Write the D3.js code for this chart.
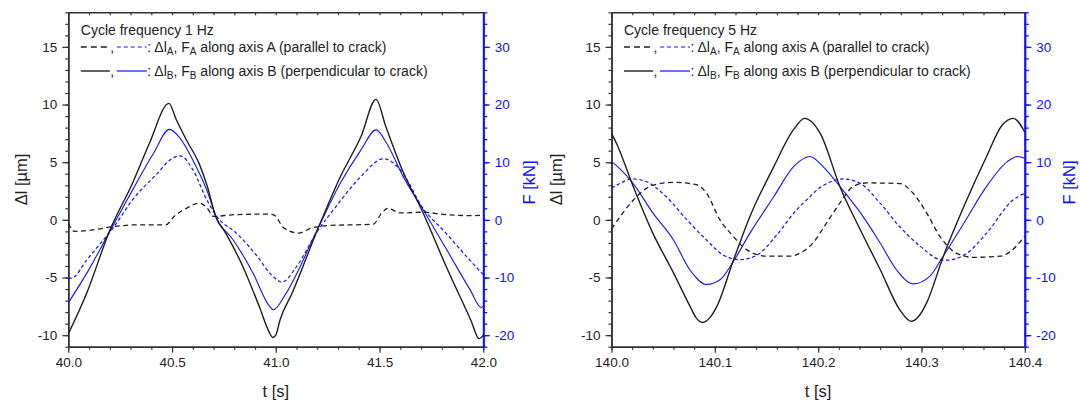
<!DOCTYPE html>
<html>
<head>
<meta charset="utf-8">
<script src="https://cdn.jsdelivr.net/npm/d3@7"></script>
<style>
body{margin:0;background:#fff}
svg text{font-family:"Liberation Sans",Arial,sans-serif}
</style>
</head>
<body>
<svg id="plot" width="1080" height="401"></svg>
<script>
//load our svg
let svg = d3.select("#plot")

//----- data: [t in s, value] -----
//1 Hz panel, displacement in um
let hz1_dlB = [[40.00,-9.9],[40.09,-6.3],[40.20,-0.9],[40.31,3.2],[40.39,6.6],[40.485,10.1],[40.52,8.7],[40.57,6.9],[40.63,4.9],[40.67,2.9],[40.71,0.3],[40.76,-1.2],[40.84,-4.0],[40.92,-7.5],[40.97,-9.8],[40.985,-10.2],[41.0,-10.0],[41.02,-8.7],[41.08,-6.3],[41.20,-0.9],[41.31,3.7],[41.41,7.2],[41.483,10.45],[41.53,8.1],[41.61,4.3],[41.71,0.6],[41.82,-4.0],[41.94,-8.7],[41.98,-10.3],[42.0,-10.0]]
let hz1_dlA = [[40.0,-0.3],[40.03,-1.0],[40.12,-0.87],[40.22,-0.58],[40.33,-0.43],[40.47,-0.43],[40.51,0.3],[40.57,1.0],[40.63,1.45],[40.67,1.0],[40.70,0.3],[40.80,0.45],[40.96,0.5],[40.99,0.43],[41.04,-0.72],[41.11,-1.15],[41.17,-0.72],[41.25,-0.5],[41.47,-0.37],[41.51,0.58],[41.54,1.0],[41.60,0.6],[41.71,0.66],[41.82,0.45],[41.94,0.37],[42.0,0.4]]
//1 Hz panel, force in kN
let hz1_FB = [[40.0,-14.4],[40.09,-9.2],[40.2,-2.0],[40.31,5.2],[40.41,11.5],[40.487,15.7],[40.54,14.1],[40.60,10.4],[40.667,5.2],[40.715,0.3],[40.795,-3.5],[40.89,-9.2],[40.97,-15.0],[40.988,-15.6],[41.05,-12.7],[41.20,-1.7],[41.31,6.3],[41.41,12.1],[41.483,15.6],[41.534,13.3],[41.614,7.5],[41.711,1.7],[41.824,-5.2],[41.936,-12.1],[41.99,-15.2],[42.0,-15.0]]
let hz1_FA = [[40.0,-10.1],[40.015,-10.1],[40.09,-6.9],[40.15,-4.3],[40.22,-1.2],[40.31,3.5],[40.43,8.1],[40.49,10.4],[40.54,11.1],[40.60,8.7],[40.667,3.5],[40.715,0.6],[40.81,-2.3],[40.91,-6.3],[40.97,-9.2],[40.99,-9.9],[41.03,-10.8],[41.10,-8.1],[41.20,-2.0],[41.29,2.3],[41.41,7.5],[41.52,10.6],[41.60,8.7],[41.71,2.0],[41.82,-2.3],[41.94,-7.2],[42.0,-9.5]]

//5 Hz panel, displacement in um
let hz5_dlB = [[140.0,7.5],[140.005,6.6],[140.021,2.9],[140.04,-1.15],[140.06,-4.6],[140.076,-7.5],[140.082,-8.5],[140.088,-8.9],[140.095,-8.5],[140.102,-7.5],[140.118,-3.5],[140.134,0.3],[140.157,4.6],[140.176,7.8],[140.187,8.8],[140.202,7.5],[140.221,2.9],[140.241,-0.9],[140.26,-4.3],[140.279,-7.8],[140.29,-8.8],[140.297,-8.4],[140.305,-7.2],[140.321,-3.2],[140.341,1.15],[140.363,5.5],[140.378,8.2],[140.389,8.8],[140.4,7.6]]
let hz5_dlA = [[140.0,-0.8],[140.011,0.6],[140.021,1.7],[140.034,2.75],[140.047,3.15],[140.06,3.25],[140.082,3.05],[140.092,2.3],[140.105,0],[140.118,-1.45],[140.131,-2.6],[140.15,-3.15],[140.173,-3.15],[140.182,-2.9],[140.195,-2.0],[140.208,-0.3],[140.221,1.45],[140.234,2.9],[140.247,3.2],[140.279,3.15],[140.292,2.3],[140.305,0.6],[140.318,-1.45],[140.334,-2.9],[140.35,-3.25],[140.376,-3.15],[140.386,-2.75],[140.4,-1.4]]
//5 Hz panel, force in kN
let hz5_FB = [[140.0,10.1],[140.008,8.9],[140.021,6.3],[140.04,1.2],[140.06,-3.5],[140.076,-8.7],[140.092,-11.2],[140.105,-10.4],[140.118,-7.2],[140.134,-2.3],[140.157,4.0],[140.176,9.2],[140.192,11.0],[140.205,9.2],[140.221,5.8],[140.241,1.2],[140.26,-4.0],[140.276,-8.7],[140.292,-11.1],[140.308,-9.8],[140.321,-6.3],[140.341,-0.6],[140.363,5.8],[140.383,10.1],[140.393,11.0],[140.4,10.7]]
let hz5_FA = [[140.0,5.5],[140.008,6.3],[140.02,7.1],[140.034,6.6],[140.053,4.0],[140.073,0],[140.092,-3.5],[140.108,-6.1],[140.124,-6.9],[140.141,-6.1],[140.16,-2.6],[140.179,1.7],[140.192,4.0],[140.199,5.2],[140.212,6.6],[140.224,7.1],[140.241,6.3],[140.26,2.9],[140.279,-1.2],[140.299,-4.6],[140.318,-6.9],[140.324,-7.0],[140.344,-5.8],[140.363,-2.3],[140.389,3.5],[140.4,4.6]]

//tick labels
let dl_ticks = [-10,-5,0,5,10,15]
let F_ticks = [-20,-10,0,10,20,30]
let hz1_ticks = [40.0,40.5,41.0,41.5,42.0]
let hz5_ticks = [140.0,140.1,140.2,140.3,140.4]

let dl_domain = [-11,18]
let F_domain = [-22,36]

//----- layout -----
let plot_top = 12.3, plot_bottom = 346.7
let black = "#1e1e1e", blue = "#1010ff", axis_col = "#333"

let panels = [
  {id:"p1", x0:68.3, x1:483.3, dom:[40,42], ticks:hz1_ticks, minor:0.1, title:"Cycle frequency 1 Hz",
   dlB:hz1_dlB, dlA:hz1_dlA, FB:hz1_FB, FA:hz1_FA, ylab_x:21, flab_x:529},
  {id:"p2", x0:611.5, x1:1024.8, dom:[140,140.4], ticks:hz5_ticks, minor:0.02, title:"Cycle frequency 5 Hz",
   dlB:hz5_dlB, dlA:hz5_dlA, FB:hz5_FB, FA:hz5_FA, ylab_x:556, flab_x:1069}
]

let y_scale = d3.scaleLinear(dl_domain, [plot_bottom, plot_top])
let f_scale = d3.scaleLinear(F_domain, [plot_bottom, plot_top])

panels.forEach(function(p){
  let x_scale = d3.scaleLinear(p.dom, [p.x0, p.x1])
  let g = svg.append("g")

  //clip for the curves
  svg.append("clipPath").attr("id", "clip_" + p.id)
    .append("rect").attr("x", p.x0).attr("y", plot_top).attr("width", p.x1 - p.x0).attr("height", plot_bottom - plot_top)

  let minor_x = d3.range(p.dom[0], p.dom[1] + p.minor/2, p.minor)
  let minor_y = d3.range(dl_domain[0], dl_domain[1] + 0.5, 1)
  let minor_f = d3.range(F_domain[0], F_domain[1] + 1, 2)

  //bottom axis: minor then major
  g.append("g").attr("transform", `translate(0,${plot_bottom})`)
    .call(d3.axisBottom(x_scale).tickValues(minor_x).tickSize(3).tickSizeOuter(0).tickFormat(""))
  let xax = g.append("g").attr("transform", `translate(0,${plot_bottom})`)
    .call(d3.axisBottom(x_scale).tickValues(p.ticks).tickSize(6).tickSizeOuter(0).tickPadding(4.5).tickFormat(d3.format(".1f")))
  xax.selectAll("text").attr("font-size", 13.5).attr("fill", "#222")

  //top mirror axis, ticks pointing in
  g.append("g").attr("transform", `translate(0,${plot_top})`)
    .call(d3.axisBottom(x_scale).tickValues(minor_x).tickSize(3).tickSizeOuter(0).tickFormat(""))

  //left axis
  g.append("g").attr("transform", `translate(${p.x0},0)`)
    .call(d3.axisLeft(y_scale).tickValues(minor_y).tickSize(3).tickSizeOuter(0).tickFormat(""))
  let yax = g.append("g").attr("transform", `translate(${p.x0},0)`)
    .call(d3.axisLeft(y_scale).tickValues(dl_ticks).tickSize(6).tickSizeOuter(0).tickPadding(5).tickFormat(d => String(d)))
  yax.selectAll("text").attr("font-size", 13.5).attr("fill", "#222")

  //right axis (force), blue
  g.append("g").attr("class", "fax").attr("transform", `translate(${p.x1},0)`)
    .call(d3.axisRight(f_scale).tickValues(minor_f).tickSize(4).tickSizeOuter(0).tickFormat(""))
  let fax = g.append("g").attr("class", "fax").attr("transform", `translate(${p.x1},0)`)
    .call(d3.axisRight(f_scale).tickValues(F_ticks).tickSize(6.5).tickSizeOuter(0).tickPadding(5).tickFormat(d => String(d)))
  fax.selectAll("text").attr("font-size", 13.5).attr("fill", blue)

  g.selectAll(".domain").attr("stroke", axis_col).attr("stroke-width", 1.5)
  g.selectAll(".tick line").attr("stroke", axis_col).attr("stroke-width", 1.2)
  g.selectAll(".fax .domain").attr("stroke", blue).attr("stroke-width", 1.8)
  g.selectAll(".fax .tick line").attr("stroke", blue).attr("stroke-width", 1.3)

  //axis titles
  g.append("text").attr("text-anchor", "middle").attr("font-size", 16.5).attr("fill", "#222")
    .attr("x", (p.x0 + p.x1)/2).attr("y", 396.5).text("t [s]")
  g.append("text").attr("text-anchor", "middle").attr("font-size", 16.5).attr("fill", "#222")
    .attr("transform", `translate(${p.ylab_x},${(plot_top+plot_bottom)/2}) rotate(-90)`).attr("dy", "0.35em").text("Δl [µm]")
  g.append("text").attr("text-anchor", "middle").attr("font-size", 16.5).attr("fill", blue)
    .attr("transform", `translate(${p.flab_x},${(plot_top+plot_bottom)/2 + 3}) rotate(-90)`).attr("dy", "0.35em").text("F [kN]")

  //curves
  let dl_line = d3.line().x(d => x_scale(d[0])).y(d => y_scale(d[1])).curve(d3.curveMonotoneX)
  let f_line = d3.line().x(d => x_scale(d[0])).y(d => f_scale(d[1])).curve(d3.curveMonotoneX)
  let curves = g.append("g").attr("clip-path", `url(#clip_${p.id})`).attr("fill", "none")
  curves.append("path").attr("d", f_line(p.FA)).attr("stroke", blue).attr("stroke-width", 1.2).attr("stroke-dasharray", "3.5,2.5")
  curves.append("path").attr("d", f_line(p.FB)).attr("stroke", blue).attr("stroke-width", 1.1)
  curves.append("path").attr("d", dl_line(p.dlA)).attr("stroke", black).attr("stroke-width", 1.3).attr("stroke-dasharray", "5,3.5")
  curves.append("path").attr("d", dl_line(p.dlB)).attr("stroke", black).attr("stroke-width", 1.4)

  //legend
  let lx = p.x0 + 12.5
  let leg = g.append("g").attr("font-size", 14).attr("fill", "#222")
  leg.append("text").attr("x", lx).attr("y", 35).text(p.title)
  let rows = [
    {y:47, dash_k:"6,4", dash_b:"4,3", sub:"A", txt:" along axis A (parallel to crack)"},
    {y:71, dash_k:null, dash_b:null, sub:"B", txt:" along axis B (perpendicular to crack)"}
  ]
  rows.forEach(function(r){
    leg.append("line").attr("x1", lx).attr("x2", lx + 29).attr("y1", r.y).attr("y2", r.y)
      .attr("stroke", black).attr("stroke-width", 1.4).attr("stroke-dasharray", r.dash_k)
    leg.append("text").attr("x", lx + 29.5).attr("y", r.y + 5).text(",")
    leg.append("line").attr("x1", lx + 36).attr("x2", lx + 66).attr("y1", r.y).attr("y2", r.y)
      .attr("stroke", blue).attr("stroke-width", 1.2).attr("stroke-dasharray", r.dash_b)
    let t = leg.append("text").attr("x", lx + 66.5).attr("y", r.y + 5)
    t.append("tspan").text(": Δl")
    t.append("tspan").attr("font-size", 10).attr("dy", 3).text(r.sub)
    t.append("tspan").attr("dy", -3).text(", F")
    t.append("tspan").attr("font-size", 10).attr("dy", 3).text(r.sub)
    t.append("tspan").attr("dy", -3).text(r.txt)
  })
})
</script>
</body>
</html>
